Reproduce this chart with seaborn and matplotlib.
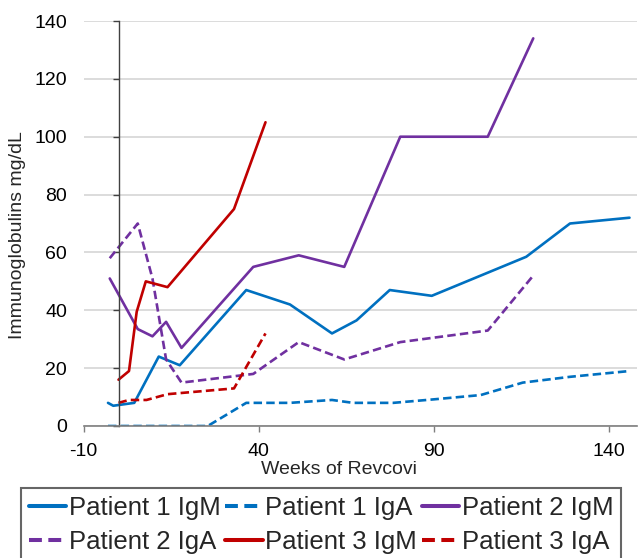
import matplotlib
matplotlib.use("Agg")
import matplotlib.pyplot as plt
import seaborn as sns
import pandas as pd

# Immunoglobulin levels over weeks of Revcovi treatment
p1_igm_weeks = [-3, -1.5, 4.5, 11.5, 17.5, 36.5, 49, 61, 68, 77.5, 89.5, 116.5, 129, 146]
p1_igm = [8, 7, 8, 24, 21, 47, 42, 32, 36.5, 47, 45, 58.5, 70, 72]

p1_iga_weeks = [-3, 4.5, 11.5, 17.5, 25.5, 36.5, 49, 61, 67, 78.5, 90, 103.5, 115.5, 129, 146]
p1_iga = [0, 0, 0, 0, 0, 8, 8, 9, 8, 8, 9.2, 10.7, 15, 17, 19]

p2_igm_weeks = [-2.5, 5.5, 9.7, 13.6, 18, 38.5, 51.5, 64.5, 80.5, 105.5, 118.5]
p2_igm = [51, 33.5, 31, 36, 27, 55, 59, 55, 100, 100, 134]

p2_iga_weeks = [-2.5, 5.5, 9.7, 13.6, 18, 38.5, 51.5, 64.5, 80.5, 105.5, 118.5]
p2_iga = [58, 70, 51, 23, 15, 18, 29, 23, 29, 33, 52]

p3_igm_weeks = [0, 3, 5.2, 7.8, 14, 33, 42]
p3_igm = [16, 19, 39.5, 50, 48, 75, 105]

p3_iga_weeks = [0, 3, 8, 14, 33, 42]
p3_iga = [8, 9, 9, 11, 13, 32]

series_names = ["Patient 1 IgM", "Patient 1 IgA", "Patient 2 IgM",
                "Patient 2 IgA", "Patient 3 IgM", "Patient 3 IgA"]
series_weeks = [p1_igm_weeks, p1_iga_weeks, p2_igm_weeks, p2_iga_weeks, p3_igm_weeks, p3_iga_weeks]
series_vals = [p1_igm, p1_iga, p2_igm, p2_iga, p3_igm, p3_iga]

x_ticks = [-10, 40, 90, 140]
y_ticks = [0, 20, 40, 60, 80, 100, 120, 140]

BLUE, PURPLE, RED = "#0070C0", "#7030A0", "#C00000"
palette = dict(zip(series_names, [BLUE, BLUE, PURPLE, PURPLE, RED, RED]))
dash = (3.2, 1.6)
dashes = dict(zip(series_names, ["", dash, "", dash, "", dash]))

rows = []
for name, wk, vals in zip(series_names, series_weeks, series_vals):
    for w, v in zip(wk, vals):
        rows.append({"week": w, "value": v, "series": name})
df = pd.DataFrame(rows)

sns.set_theme(style="white")
plt.rcParams["font.family"] = ["Liberation Sans", "DejaVu Sans"]
plt.rcParams["axes.unicode_minus"] = False

fig = plt.figure(figsize=(6.39, 5.58), dpi=100)
ax = fig.add_axes([83.5 / 639, 132 / 558, 553 / 639, 405 / 558])

sns.lineplot(data=df, x="week", y="value", hue="series", style="series",
             hue_order=series_names, style_order=series_names,
             palette=palette, dashes=dashes, sort=False, estimator=None,
             linewidth=1.9, ax=ax)

ax.set_xlim(-10, 148)
ax.set_ylim(0, 140)
ax.set_xticks(x_ticks)
ax.set_yticks(y_ticks)
ax.tick_params(axis="both", labelsize=14, colors="#000000")

# horizontal gridlines
ax.yaxis.grid(True, color="#D9D9D9", linewidth=1.3)
ax.xaxis.grid(False)
ax.set_axisbelow(True)

for side in ["top", "right"]:
    ax.spines[side].set_visible(False)
ax.spines["bottom"].set_color("#7F7F7F")
ax.spines["bottom"].set_linewidth(1.2)
# vertical axis crosses at week 0
ax.spines["left"].set_position(("data", 0))
ax.spines["left"].set_color("#404040")
ax.spines["left"].set_linewidth(1.0)
ax.tick_params(axis="y", direction="out", length=4, width=1, color="#404040", pad=33, left=True)
ax.tick_params(axis="x", direction="out", length=4, width=1, color="#7F7F7F", pad=8, bottom=True)
for lab in ax.get_xticklabels() + ax.get_yticklabels():
    lab.set_color("#000000")

ax.set_xlabel("Weeks of Revcovi", fontsize=14)
ax.xaxis.set_label_coords((339 - 83.5) / 553, -(469 - 426) / 405)
ax.xaxis.label.set_va("center")
ax.set_ylabel("Immunoglobulins mg/dL", fontsize=14)
ax.yaxis.set_label_coords((18 - 83.5) / 553, (426 - 235) / 405)
ax.yaxis.label.set_va("center")

# legend laid out row by row (matplotlib fills columns first)
handles, labels = ax.get_legend_handles_labels()
ax.get_legend().remove()
order = [0, 3, 1, 4, 2, 5]
leg = fig.legend([handles[i] for i in order], [labels[i] for i in order],
                 ncol=3, loc="upper left",
                 bbox_to_anchor=(21 / 639, 70 / 558), bbox_transform=fig.transFigure,
                 borderaxespad=0, fontsize=18.5, frameon=True, fancybox=False,
                 handlelength=1.45, handletextpad=0.1, columnspacing=0.2,
                 borderpad=0.3, labelspacing=0.4)
leg.get_frame().set_edgecolor("#404040")
leg.get_frame().set_linewidth(1.5)
for h in leg.legend_handles:
    h.set_linewidth(2.9)

fig.savefig("out.png", dpi=100)
